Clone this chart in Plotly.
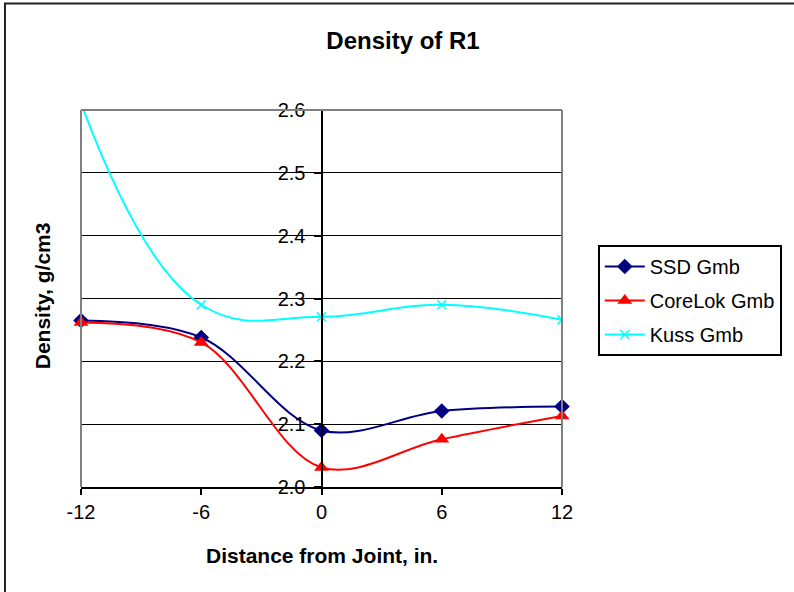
import plotly.graph_objects as go

x_in = [-12, -6, 0, 6, 12]
ssd_gmb = [2.265, 2.238, 2.090, 2.121, 2.128]
corelok_gmb = [2.262, 2.230, 2.031, 2.076, 2.113]
kuss_gmb = [2.611, 2.290, 2.271, 2.290, 2.266]
y_ticks = [2.0, 2.1, 2.2, 2.3, 2.4, 2.5, 2.6]
x_ticks = [-12, -6, 0, 6, 12]

W, H = 794, 592
ML, MR, MT, MB = 81, 229, 110, 105
PW, PH = W - ML - MR, H - MT - MB

def px_x(p):
    return (p - ML) / PW

def px_y(p):
    return (H - MB - p) / PH

FONT = "Liberation Sans, Arial, sans-serif"

fig = go.Figure()
fig.add_trace(go.Scatter(
    x=x_in, y=ssd_gmb, name="SSD Gmb", mode="lines+markers",
    line=dict(color="#000080", width=2, shape="spline", smoothing=1),
    marker=dict(symbol="diamond", size=12, color="#000080"),
    legendgroup="a", cliponaxis=False))
fig.add_trace(go.Scatter(
    x=x_in, y=corelok_gmb, name="CoreLok Gmb", mode="lines+markers",
    line=dict(color="#FF0000", width=2, shape="spline", smoothing=1),
    marker=dict(symbol="triangle-up", size=13, color="#FF0000"),
    legendgroup="b", cliponaxis=False))
fig.add_trace(go.Scatter(
    x=x_in, y=kuss_gmb, name="Kuss Gmb", mode="lines+markers",
    line=dict(color="#00FFFF", width=2, shape="spline", smoothing=1.2),
    marker=dict(symbol="x-thin", size=9, color="#00FFFF",
                line=dict(color="#00FFFF", width=1.5)),
    legendgroup="c", cliponaxis=True))

shapes = [
    dict(type="line", xref="paper", yref="paper", x0=0, x1=0, y0=0, y1=1,
         line=dict(color="#808080", width=2), layer="above"),
    dict(type="line", xref="paper", yref="paper", x0=1, x1=1, y0=0, y1=1,
         line=dict(color="#808080", width=2), layer="above"),
    dict(type="line", xref="paper", yref="paper", x0=0, x1=1, y0=1, y1=1,
         line=dict(color="#808080", width=2), layer="above"),
    dict(type="rect", xref="paper", yref="paper",
         x0=px_x(4.5), x1=px_x(W + 20), y0=px_y(H + 20), y1=px_y(3.5),
         line=dict(color="#202020", width=2), layer="above"),
]

fig.update_layout(
    width=W, height=H,
    margin=dict(l=ML, r=MR, t=MT, b=MB),
    paper_bgcolor="white", plot_bgcolor="white",
    font=dict(family=FONT, color="black", size=20),
    title=dict(text="<b>Density of R1</b>", x=403 / W, xanchor="center",
               y=1 - 41 / H, yanchor="middle", yref="container",
               font=dict(size=24, family=FONT, color="black")),
    xaxis=dict(range=[-12, 12], tickvals=x_ticks, ticktext=[str(v) for v in x_ticks],
               showgrid=False, zeroline=True, zerolinecolor="black", zerolinewidth=2,
               showline=True, linecolor="black", linewidth=2,
               ticks="outside", ticklen=6, tickwidth=2, tickcolor="black",
               tickfont=dict(size=20), fixedrange=True),
    yaxis=dict(range=[2.0, 2.6], tickvals=y_ticks,
               ticktext=[f"{v:.1f}" for v in y_ticks],
               anchor="free", position=0.5, side="left",
               showgrid=True, gridcolor="black", gridwidth=1,
               zeroline=False, showline=True, linecolor="black", linewidth=2,
               ticks="outside", ticklen=7, tickwidth=2, tickcolor="black",
               tickfont=dict(size=20), ticklabelstandoff=4, fixedrange=True),
    legend=dict(x=px_x(601), y=px_y(245), xanchor="left", yanchor="top",
                bordercolor="black", borderwidth=2, bgcolor="white",
                font=dict(size=20), tracegroupgap=5, itemwidth=40),
    showlegend=True,
    shapes=shapes,
    annotations=[
        dict(text="<b>Distance from Joint, in.</b>", xref="paper", yref="paper",
             x=0.5, y=px_y(555), xanchor="center", yanchor="middle",
             showarrow=False, font=dict(size=21, family=FONT)),
        dict(text="<b>Density, g/cm3</b>", xref="paper", yref="paper",
             x=px_x(42), y=px_y(296), xanchor="center", yanchor="middle",
             textangle=-90, showarrow=False, font=dict(size=21, family=FONT)),
    ],
)

fig.write_html("out.html")
